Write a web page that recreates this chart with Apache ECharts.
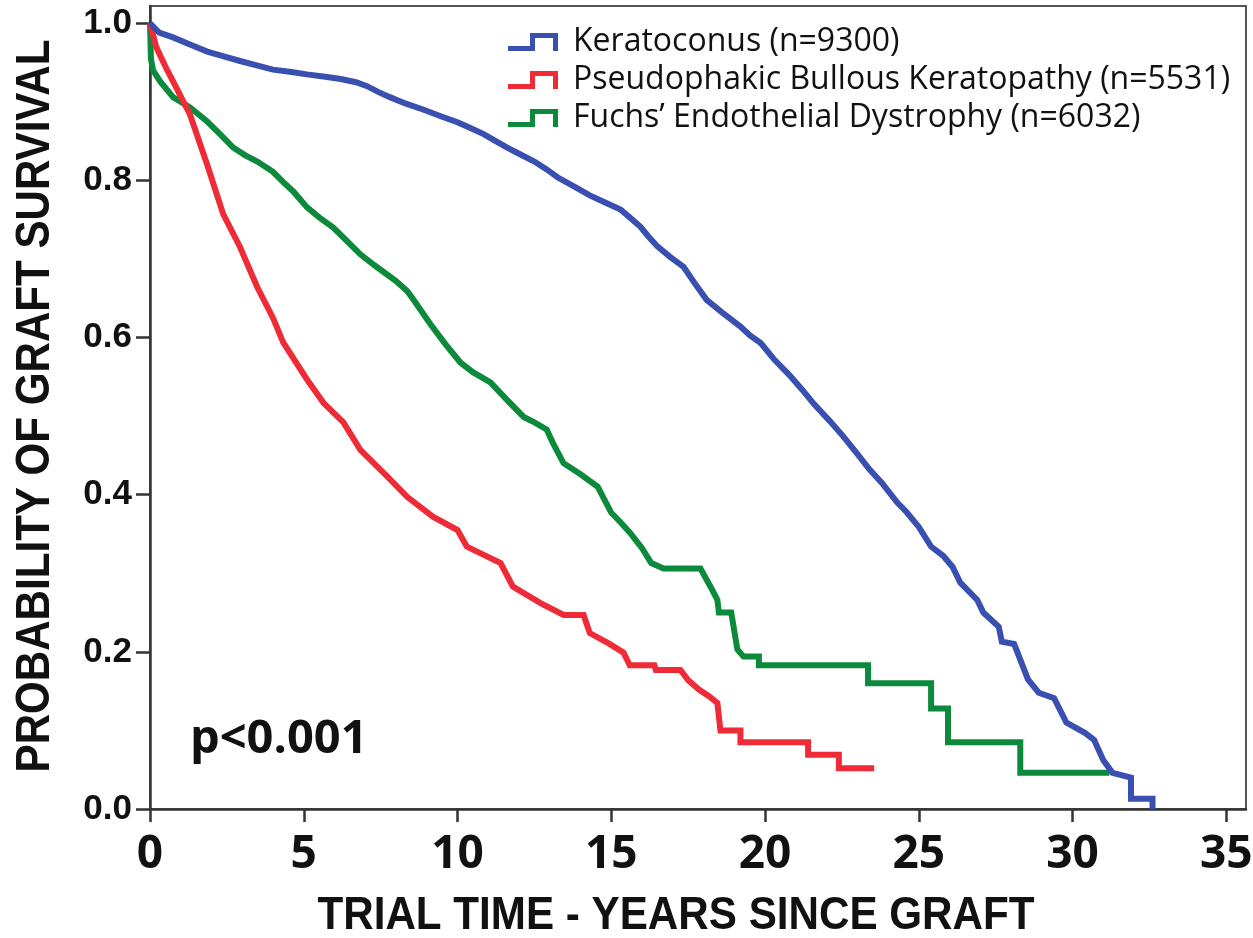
<!DOCTYPE html>
<html>
<head>
<meta charset="utf-8">
<title>Graft survival by indication</title>
<script src="https://cdn.jsdelivr.net/npm/echarts@6/dist/echarts.min.js"></script>
<style>
  html, body { margin: 0; padding: 0; background: #fff; }
  #chart { width: 1253px; height: 938px; }
</style>
</head>
<body>
<div id="chart"></div>
<script>
// Kaplan-Meier curves as drawn: [years since graft, probability of graft survival]
// (corner points are listed twice where the curve drops at a single time)
const keratoconus = [
  [0,1.0],[0.3,0.988],[0.75,0.982],[1.3,0.973],[1.86,0.964],[2.4,0.958],[2.93,0.952],[3.5,0.946],
  [4.0,0.941],[4.6,0.938],[5.1,0.935],[5.7,0.932],[6.2,0.929],[6.7,0.925],[7.06,0.92],[7.4,0.913],
  [7.8,0.906],[8.3,0.898],[8.9,0.89],[9.5,0.881],[10.0,0.874],[10.4,0.867],[10.85,0.859],[11.2,0.851],
  [11.6,0.842],[12.0,0.834],[12.5,0.824],[12.9,0.814],[13.25,0.804],[13.8,0.792],[14.3,0.781],[14.8,0.772],
  [15.3,0.763],[15.6,0.753],[15.95,0.741],[16.2,0.729],[16.5,0.716],[16.9,0.703],[17.35,0.69],[17.7,0.67],
  [18.1,0.648],[18.6,0.632],[19.2,0.614],[19.5,0.603],[19.86,0.593],[20.3,0.572],[20.8,0.552],[21.2,0.534],
  [21.6,0.515],[22.1,0.494],[22.55,0.474],[23.0,0.452],[23.4,0.432],[23.8,0.415],[24.3,0.39],[24.6,0.378],
  [25.0,0.359],[25.4,0.334],[25.8,0.322],[26.1,0.308],[26.35,0.288],[26.9,0.266],[27.1,0.25],[27.6,0.232],
  [27.7,0.213],[28.1,0.21],[28.55,0.165],[28.9,0.148],[29.4,0.141],[29.8,0.11],[30.4,0.097],[30.7,0.088],
  [31.0,0.062],[31.3,0.046],[31.9,0.04],[31.9,0.013],[32.6,0.013],[32.6,0.0]
];
const pseudophakicBK = [
  [0,1.0],[0.2,0.97],[0.5,0.945],[0.75,0.926],[1.3,0.884],[1.86,0.82],[2.38,0.757],[2.93,0.715],
  [3.49,0.664],[4.0,0.625],[4.33,0.594],[5.1,0.547],[5.64,0.517],[6.29,0.492],[6.84,0.457],[7.72,0.423],
  [8.37,0.397],[9.2,0.372],[10.0,0.355],[10.3,0.334],[11.4,0.313],[11.8,0.283],[12.7,0.262],[13.45,0.247],
  [14.1,0.247],[14.3,0.224],[14.9,0.211],[15.4,0.199],[15.6,0.183],[16.4,0.183],[16.45,0.177],[17.25,0.177],
  [17.5,0.164],[17.85,0.152],[18.2,0.143],[18.45,0.135],[18.55,0.10],[19.2,0.10],[19.2,0.085],[21.4,0.085],
  [21.4,0.069],[22.4,0.069],[22.4,0.052],[23.55,0.052]
];
const fuchs = [
  [0,1.0],[0.03,0.955],[0.1,0.94],[0.33,0.926],[0.75,0.906],[1.3,0.893],[1.86,0.875],[2.3,0.858],
  [2.7,0.842],[3.1,0.832],[3.49,0.824],[4.0,0.811],[4.3,0.799],[4.66,0.786],[5.1,0.766],[5.5,0.753],
  [5.96,0.74],[6.4,0.723],[6.84,0.706],[7.3,0.692],[7.72,0.68],[8.0,0.672],[8.37,0.659],[8.57,0.648],
  [9.12,0.617],[9.6,0.592],[10.1,0.568],[10.5,0.556],[11.07,0.543],[11.6,0.521],[12.15,0.499],[12.5,0.492],
  [12.9,0.483],[13.1,0.466],[13.45,0.44],[14.0,0.426],[14.56,0.41],[15.0,0.377],[15.3,0.365],[15.6,0.352],
  [16.0,0.332],[16.3,0.313],[16.7,0.306],[17.9,0.306],[18.24,0.282],[18.45,0.266],[18.5,0.25],[18.9,0.25],
  [19.1,0.203],[19.3,0.194],[19.8,0.194],[19.8,0.183],[23.35,0.183],[23.35,0.16],[25.4,0.16],[25.4,0.128],
  [25.95,0.128],[25.95,0.085],[28.3,0.085],[28.3,0.046],[31.2,0.046]
];

const seriesNames = [
  'Keratoconus (n=9300)',
  'Pseudophakic Bullous Keratopathy (n=5531)',
  'Fuchs\u2019 Endothelial Dystrophy (n=6032)'
];
const seriesColors = ['#3A50B0', '#EE2B36', '#0C8A3C'];
const xTicks = [0, 5, 10, 15, 20, 25, 30, 35];
const yTicks = [0, 0.2, 0.4, 0.6, 0.8, 1.0];
const xTitle = 'TRIAL TIME - YEARS SINCE GRAFT';
const yTitle = 'PROBABILITY OF GRAFT SURVIVAL';
const pValueText = 'p<0.001';

// step-shaped legend marker
const stepIcon = 'path://M0,13 L22,13 L22,0 L50,0 L50,18 L45,18 L45,5 L27,5 L27,18 L0,18 Z';

const chart = echarts.init(document.getElementById('chart'), null, { renderer: 'canvas' });

chart.setOption({
  animation: false,
  backgroundColor: '#fff',
  grid: {
    left: 150, right: 7, top: 6, bottom: 129,
    outerBoundsMode: 'none', containLabel: false,
    show: true, borderColor: '#555', borderWidth: 2, backgroundColor: 'transparent'
  },
  legend: {
    orient: 'vertical',
    left: 503, top: 18,
    itemWidth: 50, itemHeight: 18, itemGap: 0,
    icon: stepIcon,
    itemStyle: { borderWidth: 0 },
    textStyle: {
      fontFamily: '"Open Sans", sans-serif', fontSize: 32, color: '#111',
      lineHeight: 38, padding: [0, 0, 0, 10]
    },
    data: seriesNames
  },
  xAxis: {
    type: 'value', min: 0, max: 35.64, interval: 5,
    axisLine: { lineStyle: { color: '#333', width: 2.5 } },
    axisTick: { length: 13, lineStyle: { color: '#333', width: 2.5 }, customValues: xTicks },
    axisLabel: {
      customValues: xTicks, margin: 23,
      fontFamily: '"Open Sans", sans-serif', fontWeight: 'bold', fontSize: 46, color: '#111'
    },
    splitLine: { show: false }
  },
  yAxis: {
    type: 'value', min: 0, max: 1.022, interval: 0.2,
    axisLine: { lineStyle: { color: '#333', width: 2.5 } },
    axisTick: { length: 14, lineStyle: { color: '#333', width: 2.5 }, customValues: yTicks },
    axisLabel: {
      customValues: yTicks, margin: 18,
      formatter: v => v.toFixed(1),
      fontFamily: '"Liberation Sans", Arial, sans-serif', fontWeight: 'bold', fontSize: 35, color: '#111'
    },
    splitLine: { show: false }
  },
  graphic: [
    {
      type: 'text', x: 676, y: 916, scaleX: 0.917,
      style: { text: xTitle, font: 'bold 46px "Liberation Sans", Arial, sans-serif', fill: '#111', align: 'center', verticalAlign: 'middle' }
    },
    {
      type: 'text', x: 36, y: 406, rotation: Math.PI / 2, scaleX: 0.877,
      style: { text: yTitle, font: 'bold 48px "Liberation Sans", Arial, sans-serif', fill: '#111', align: 'center', verticalAlign: 'middle' }
    },
    {
      type: 'text', left: 190, top: 716,
      style: { text: pValueText, font: 'bold 47px "Open Sans", sans-serif', fill: '#111' }
    }
  ],
  series: [keratoconus, pseudophakicBK, fuchs].map((d, i) => ({
    name: seriesNames[i],
    type: 'line',
    data: d,
    showSymbol: false,
    symbol: 'none',
    color: seriesColors[i],
    lineStyle: { width: 6, color: seriesColors[i], join: 'miter' },
    itemStyle: { color: seriesColors[i] },
    z: 3 - i
  }))
});
</script>
</body>
</html>
